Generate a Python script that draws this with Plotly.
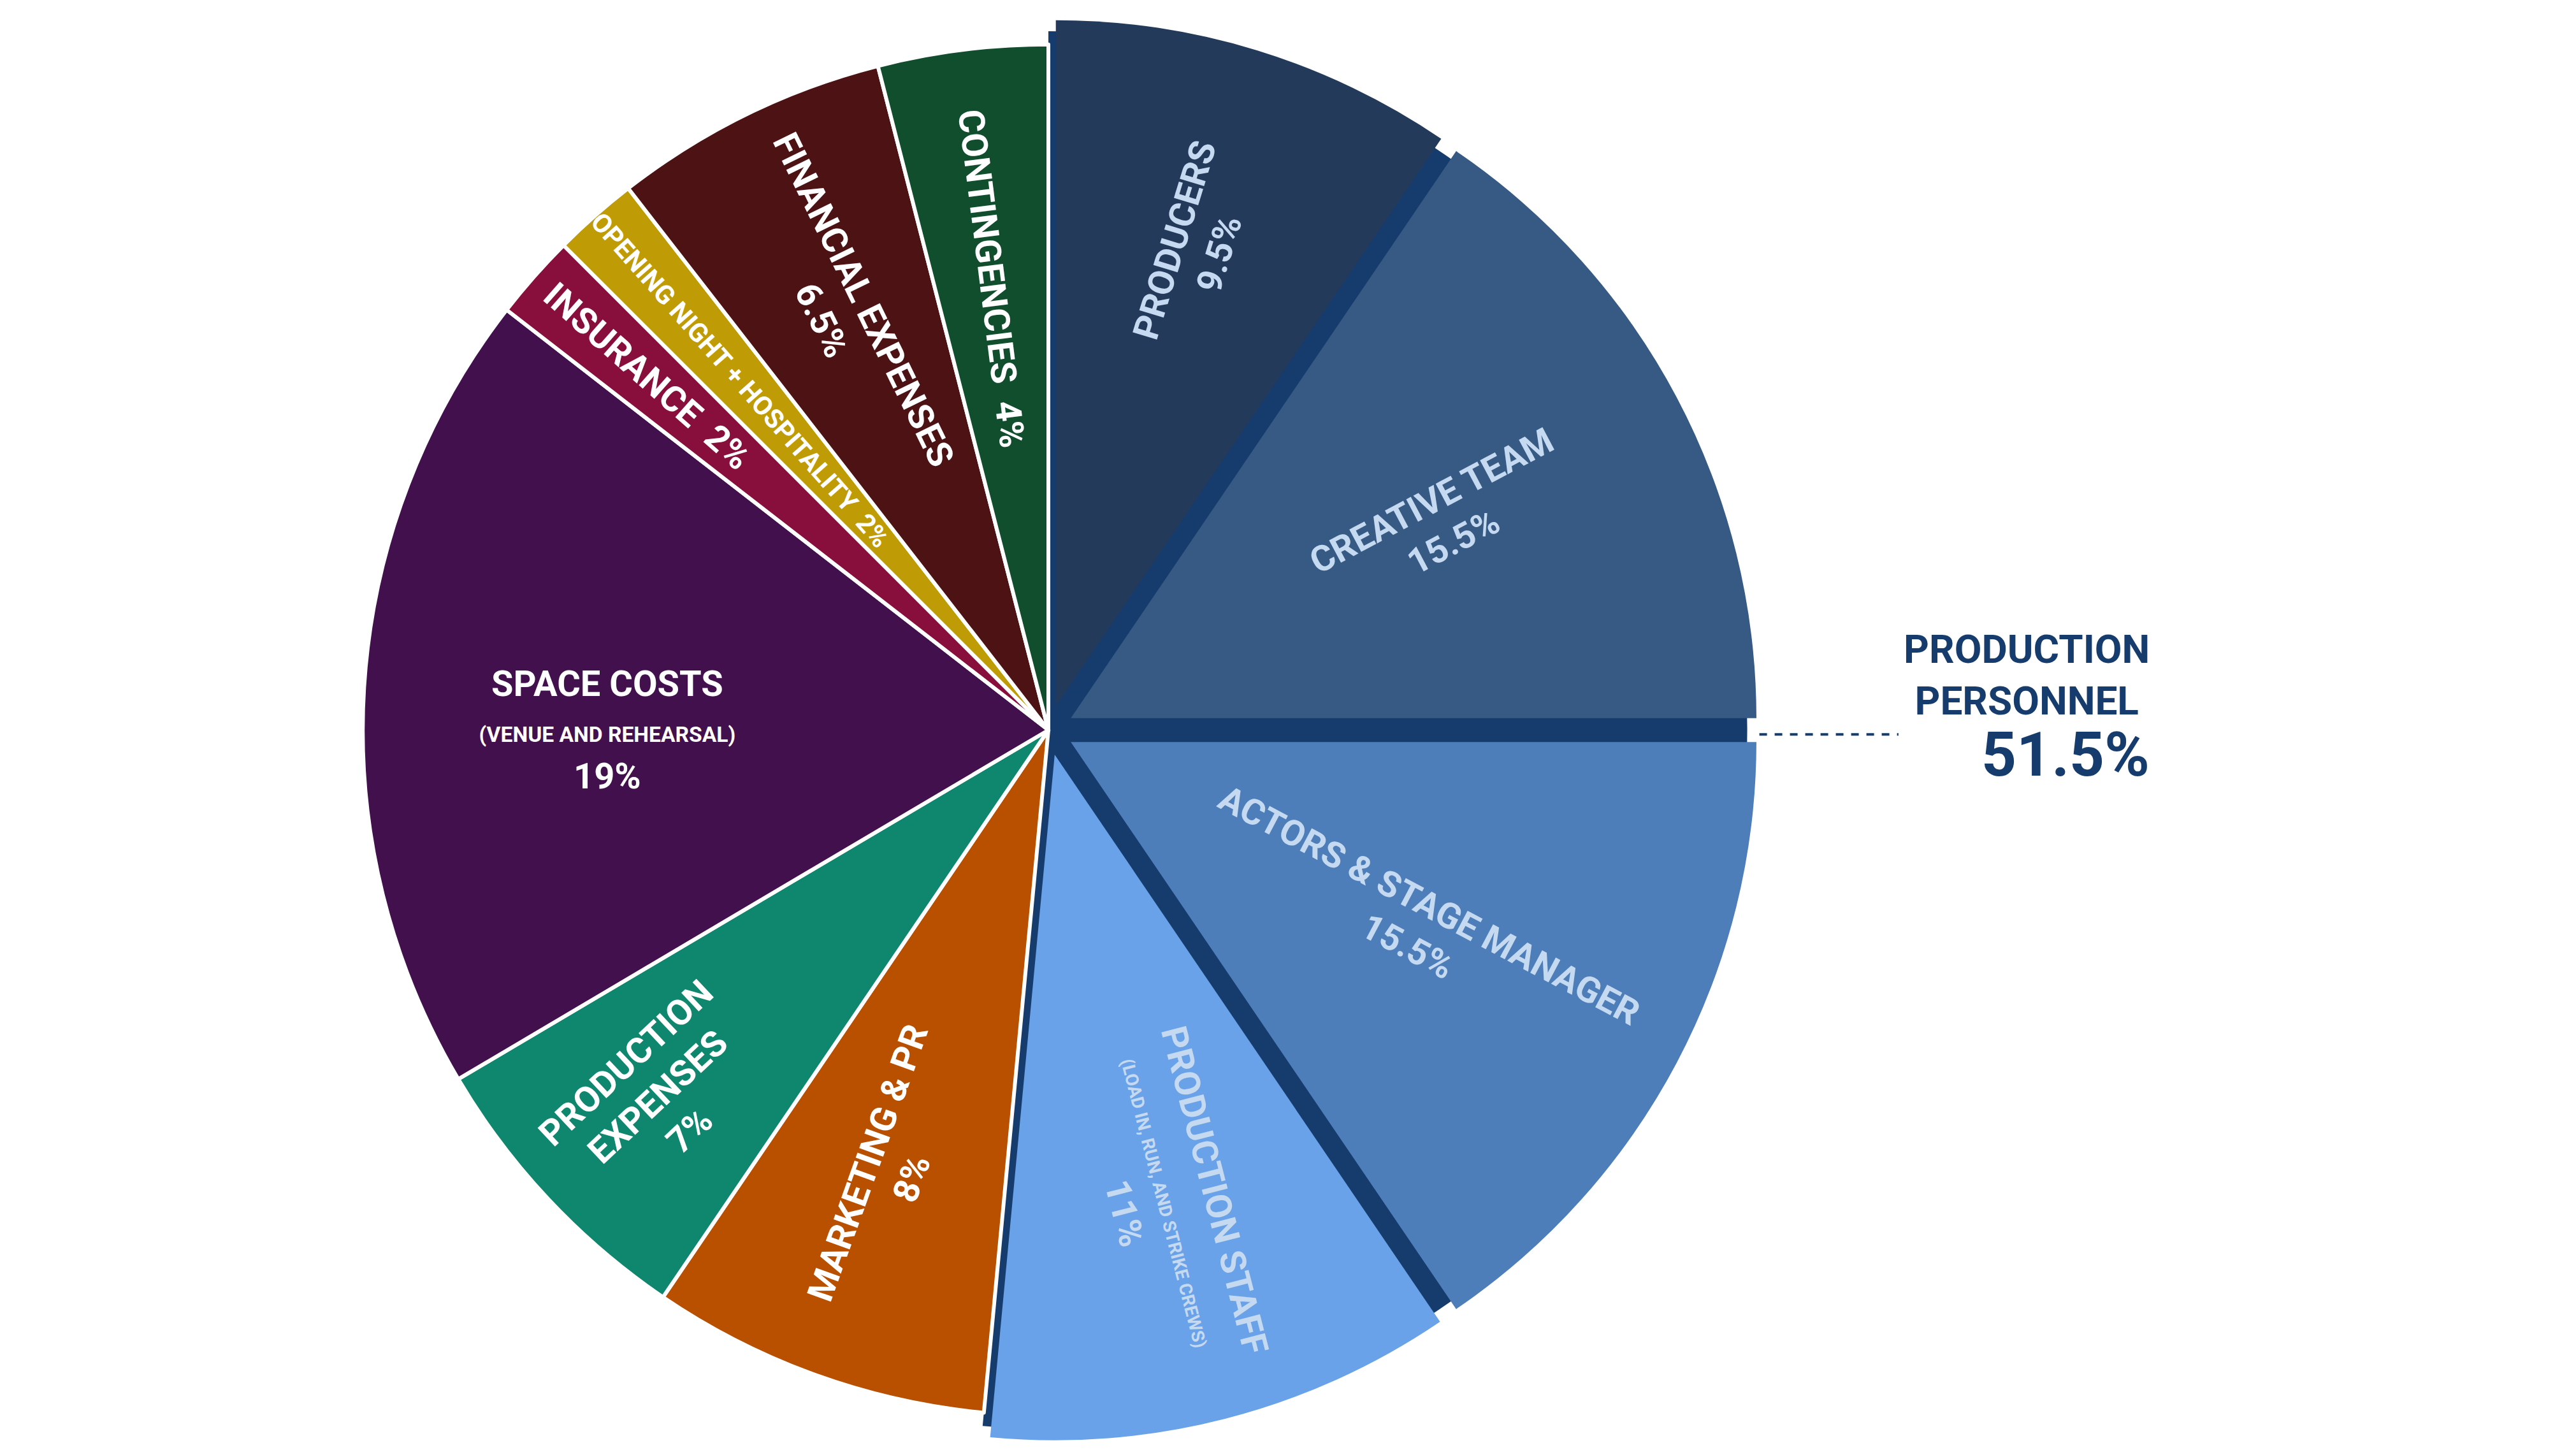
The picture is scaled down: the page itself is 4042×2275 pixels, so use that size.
import plotly.graph_objects as go

# ---------------------------
# Data
# ---------------------------
categories = ["PRODUCERS", "CREATIVE TEAM", "ACTORS & STAGE MANAGER", "PRODUCTION STAFF",
              "MARKETING & PR", "PRODUCTION EXPENSES", "SPACE COSTS", "INSURANCE",
              "OPENING NIGHT + HOSPITALITY", "FINANCIAL EXPENSES", "CONTINGENCIES"]
shares = [9.5, 15.5, 15.5, 11, 8, 7, 19, 2, 2, 6.5, 4]
labels = [
    "PRODUCERS<br>9.5%",
    "CREATIVE TEAM<br>15.5%",
    "ACTORS & STAGE MANAGER<br>15.5%",
    "PRODUCTION STAFF<br><span style='font-size:0.5em'>(LOAD IN, RUN, AND STRIKE CREWS)</span><br>11%",
    "MARKETING & PR<br>8%",
    "PRODUCTION<br>EXPENSES<br>7%",
    "SPACE COSTS<br><span style='font-size:0.6em'>(VENUE AND REHEARSAL)</span><br>19%",
    "INSURANCE  2%",
    "OPENING NIGHT + HOSPITALITY  2%",
    "FINANCIAL EXPENSES<br>6.5%",
    "CONTINGENCIES  4%",
]
colors = ["#243a5a", "#375a84", "#4d7eba", "#69a2e8", "#b85000", "#0e876e",
          "#42114d", "#880e3b", "#bf9b06", "#4c1214", "#114e2e"]
personnel = [True, True, True, True] + [False] * 7
group_label = "PRODUCTION<br>PERSONNEL"
group_share = sum(s for s, p in zip(shares, personnel) if p)

NAVY = "#163c6e"
FONT = "Liberation Sans Narrow, Roboto, Arial"

fig = go.Figure()

# navy backdrop behind the pulled personnel slices
fig.add_trace(go.Pie(
    values=[group_share, 100 - group_share],
    marker=dict(colors=[NAVY, "rgba(0,0,0,0)"], line=dict(width=0)),
    sort=False, direction="clockwise", rotation=0,
    textinfo="none", hoverinfo="skip", showlegend=False,
    domain=dict(x=[0.130, 0.680], y=[0.018, 0.982]),
))

fig.add_trace(go.Pie(
    labels=categories,
    values=shares,
    text=["<b>" + t + "</b>" for t in labels],
    textinfo="text",
    texttemplate="%{text}",
    insidetextorientation="radial",
    textposition="inside",
    insidetextfont=dict(family=FONT, size=56,
                        color=["#c5d9f1" if p else "white" for p in personnel]),
    marker=dict(colors=colors,
                line=dict(color=["rgba(0,0,0,0)" if p else "white" for p in personnel],
                          width=6)),
    pull=[0.037 if p else 0 for p in personnel],
    sort=False, direction="clockwise", rotation=0,
    showlegend=False,
    domain=dict(x=[0.129, 0.681], y=[0, 1]),
))

fig.add_annotation(
    x=0.833, y=0.538, xref="paper", yref="paper",
    text=f"<b>{group_label}</b>", showarrow=False,
    font=dict(family=FONT, size=62, color=NAVY), align="center",
)
fig.add_annotation(
    x=0.833, y=0.483, xref="paper", yref="paper",
    text=f"<b>{group_share}%</b>", showarrow=False,
    font=dict(family=FONT, size=96, color=NAVY),
)
fig.add_shape(type="line", xref="paper", yref="paper",
              x0=0.681, x1=0.735, y0=0.497, y1=0.497,
              line=dict(color=NAVY, width=4, dash="dash"))

fig.update_layout(
    width=4042, height=2275,
    margin=dict(l=0, r=0, t=0, b=0),
    paper_bgcolor="white",
    plot_bgcolor="white",
)

fig.write_html("out.html")
